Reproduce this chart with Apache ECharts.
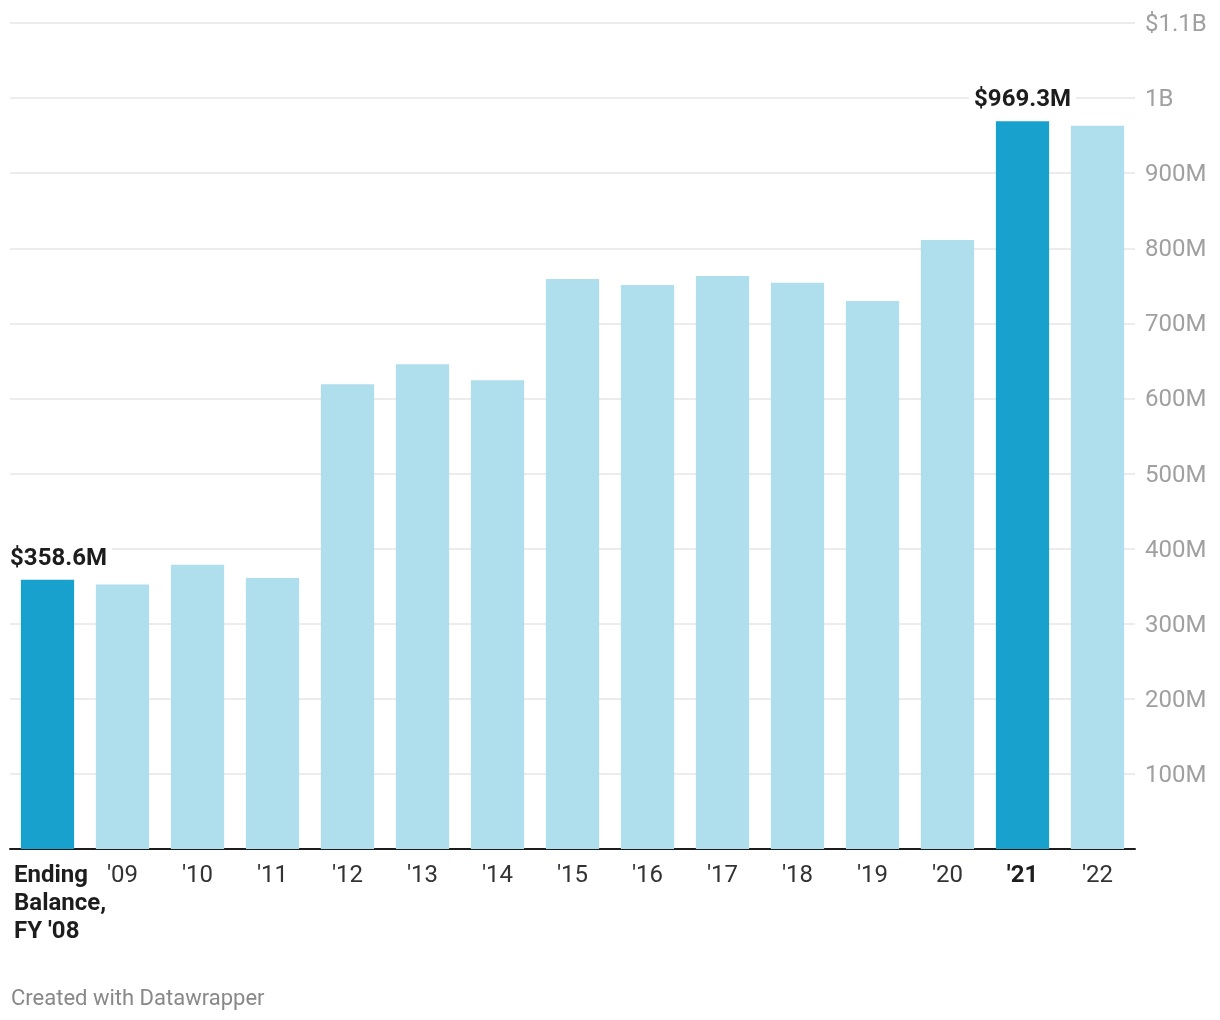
<!DOCTYPE html>
<html>
<head>
<meta charset="utf-8">
<script src="https://cdn.jsdelivr.net/npm/echarts@6/dist/echarts.min.js"></script>
<style>
html,body{margin:0;padding:0;background:#fff;}
#chart{width:1220px;height:1020px;}
</style>
</head>
<body>
<div id="chart"></div>
<script>
var categories = ["Ending\nBalance,\nFY '08", "'09", "'10", "'11", "'12", "'13", "'14", "'15", "'16", "'17", "'18", "'19", "'20", "'21", "'22"];
var values = [358.6, 352.4, 378.4, 361, 619, 645.5, 624.4, 759, 751, 763, 754, 729.7, 811, 969.3, 963];
var highlighted = [0, 13];
var yTickLabels = {100:'100M',200:'200M',300:'300M',400:'400M',500:'500M',600:'600M',700:'700M',800:'800M',900:'900M',1000:'1B',1100:'$1.1B'};
var footer = 'Created with Datawrapper';

var chart = echarts.init(document.getElementById('chart'));
var data = values.map(function (v, i) {
  var isHi = highlighted.indexOf(i) >= 0;
  var item = { value: v, itemStyle: { color: isHi ? '#19a1cd' : '#afdeed' } };
  if (isHi) {
    item.label = {
      show: true,
      position: 'top',
      distance: 9,
      offset: i === 0 ? [11, 0] : [0, 0],
      formatter: '$' + v.toFixed(1) + 'M',
      fontFamily: 'Roboto',
      fontWeight: 'bold',
      fontSize: 24,
      color: '#1d1d1d',
      backgroundColor: '#ffffff',
      padding: [0, 5]
    };
  }
  return item;
});

chart.setOption({
  animation: false,
  textStyle: { fontFamily: 'Roboto' },
  grid: { left: 10, right: 85, top: 23, bottom: 171, containLabel: false },
  xAxis: {
    type: 'category',
    data: categories,
    axisLine: { show: true, lineStyle: { color: '#1d1d1d', width: 2 } },
    axisTick: { show: false },
    axisLabel: {
      interval: 0,
      margin: 13,
      fontSize: 24,
      color: '#333333',
      lineHeight: 28,
      formatter: function (val, idx) {
        if (idx === 0) {
          return val.split('\n').map(function (s) { return '{first|' + s + '}'; }).join('\n');
        }
        if (highlighted.indexOf(idx) >= 0) return '{bold|' + val + '}';
        return val;
      },
      rich: {
        first: { fontSize: 24, fontWeight: 'bold', color: '#1d1d1d', width: 67, align: 'left', lineHeight: 28 },
        bold: { fontSize: 24, fontWeight: 'bold', color: '#1d1d1d', lineHeight: 28 }
      }
    }
  },
  yAxis: {
    type: 'value',
    position: 'right',
    min: 0,
    max: 1100,
    interval: 100,
    axisLine: { show: false },
    axisTick: { show: false },
    splitLine: { show: true, lineStyle: { color: '#e6e6e6', width: 1.5 } },
    axisLabel: {
      margin: 10,
      fontSize: 24,
      color: '#a0a0a0',
      align: 'left',
      formatter: function (v) { return yTickLabels[v] ? '{t|' + yTickLabels[v] + '}' : ''; },
      rich: {
        t: { fontSize: 24, color: '#a0a0a0', padding: [4, 0, 0, 0] }
      }
    }
  },
  series: [{
    type: 'bar',
    data: data,
    barCategoryGap: '29%',
    z: 3
  }],
  graphic: [{
    type: 'text',
    left: 11,
    top: 988,
    style: { text: footer, fontFamily: 'Roboto', fontSize: 22, fill: '#888888' }
  }]
});
</script>
</body>
</html>
